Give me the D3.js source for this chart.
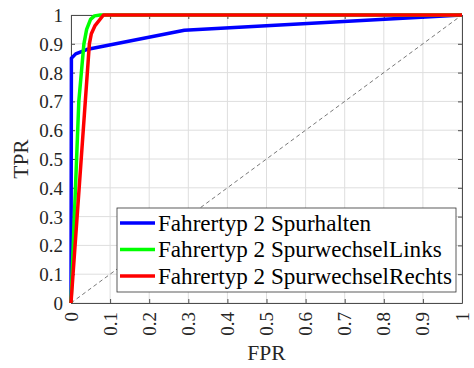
<!DOCTYPE html>
<html><head><meta charset="utf-8">
<script src="https://cdn.jsdelivr.net/npm/d3@7"></script>
<style>body{margin:0;background:#fff}svg{display:block}text{font-family:"Liberation Serif","DejaVu Serif",serif}</style>
</head><body>
<script>
const xTicks = [0,0.1,0.2,0.3,0.4,0.5,0.6,0.7,0.8,0.9,1];
const yTicks = [0,0.1,0.2,0.3,0.4,0.5,0.6,0.7,0.8,0.9,1];
const seriesNames = ["Fahrertyp 2 Spurhalten","Fahrertyp 2 SpurwechselLinks","Fahrertyp 2 SpurwechselRechts"];
const seriesColors = ["#0000ff","#00ff00","#ff0000"];
const spurhaltenFPR = [0,0.001,0.012,0.04,0.29,1];
const spurhaltenTPR = [0,0.85,0.865,0.88,0.947,1];
const linksFPR = [0,0.02,0.033,0.04,0.05,0.06,0.075,1];
const linksTPR = [0,0.7,0.9,0.95,0.985,0.997,1,1];
const rechtsFPR = [0,0.047,0.052,0.061,0.083,1];
const rechtsTPR = [0,0.9,0.935,0.962,1,1];
const diagFPR = [0,1];
const diagTPR = [0,1];

const W=474,H=368;
const m={l:71,r:12,t:15,b:65};
const svg=d3.select("body").append("svg").attr("width",W).attr("height",H);
const x=d3.scaleLinear().domain([0,1]).range([m.l,W-m.r]);
const y=d3.scaleLinear().domain([0,1]).range([H-m.b,m.t]);
const font='"Liberation Serif","DejaVu Serif",serif';

// grid
const g=svg.append("g");
g.selectAll(".gx").data(xTicks).join("line").attr("x1",d=>x(d)).attr("x2",d=>x(d)).attr("y1",y(0)).attr("y2",y(1)).attr("stroke","#dedede").attr("stroke-width",1);
g.selectAll(".gy").data(yTicks).join("line").attr("y1",d=>y(d)).attr("y2",d=>y(d)).attr("x1",x(0)).attr("x2",x(1)).attr("stroke","#dedede").attr("stroke-width",1);

// axes
const axisColor="#4d4d4d";
const xa=svg.append("g").attr("transform",`translate(0,${y(0)})`).call(d3.axisBottom(x).tickValues(xTicks).tickFormat(d3.format("~g")).tickSizeInner(-4).tickSizeOuter(0));
const ya=svg.append("g").attr("transform",`translate(${x(0)},0)`).call(d3.axisLeft(y).tickValues(yTicks).tickFormat(d3.format("~g")).tickSizeInner(-4).tickSizeOuter(0));
const xt=svg.append("g").attr("transform",`translate(0,${y(1)})`).call(d3.axisTop(x).tickValues(xTicks).tickFormat("").tickSizeInner(-4).tickSizeOuter(0));
const yr=svg.append("g").attr("transform",`translate(${x(1)},0)`).call(d3.axisRight(y).tickValues(yTicks).tickFormat("").tickSizeInner(-4).tickSizeOuter(0));
[xa,ya,xt,yr].forEach(a=>{a.attr("font-family",null).attr("font-size",null);a.selectAll("path,line").attr("stroke",axisColor);a.select(".domain").attr("stroke-width",1);});
xa.selectAll("text").style("font-family",font).style("font-size","19px").attr("fill","#262626")
  .attr("text-anchor","end").attr("dy","0.32em").attr("transform","rotate(-90)").attr("x",-9).attr("y",0);
ya.selectAll("text").style("font-family",font).style("font-size","19px").attr("fill","#262626").attr("x",-8).attr("dy","0.34em");

// diagonal
const line=d3.line().x(d=>x(d[0])).y(d=>y(d[1]));
svg.append("path").datum(diagFPR.map((v,i)=>[v,diagTPR[i]])).attr("d",line).attr("fill","none").attr("stroke","#555").attr("stroke-width",0.8).attr("stroke-dasharray","4,3");

// series
const series=[[spurhaltenFPR,spurhaltenTPR],[linksFPR,linksTPR],[rechtsFPR,rechtsTPR]];
series.forEach((s,i)=>{
  svg.append("path").datum(s[0].map((v,j)=>[v,s[1][j]])).attr("d",line).attr("fill","none")
    .attr("stroke",seriesColors[i]).attr("stroke-width",3.5).attr("stroke-linejoin","round");
});

// legend
const lg=svg.append("g");
lg.append("rect").attr("x",117).attr("y",208).attr("width",339).attr("height",84).attr("fill","#fff").attr("stroke","#333").attr("stroke-width",0.8);
const texts=[];
seriesNames.forEach((n,i)=>{
  const yy=223+i*26.5;
  lg.append("line").attr("x1",120).attr("x2",155).attr("y1",yy).attr("y2",yy).attr("stroke",seriesColors[i]).attr("stroke-width",3.5);
  texts.push(lg.append("text").attr("x",158).attr("y",yy).attr("dy","0.33em").style("font-family",font).style("font-size","21px").attr("fill","#000").text(n));
});
// fit longest entry to the box width
const wLong=texts[2].node().getComputedTextLength();
const fs=Math.min(24,21*294/wLong);
texts.forEach(t=>t.style("font-size",fs+"px"));

// axis titles
svg.append("text").attr("x",(x(0)+x(1))/2).attr("y",360).attr("text-anchor","middle").style("font-family",font).style("font-size","21.5px").attr("fill","#262626").text("FPR");
svg.append("text").attr("transform",`translate(28,${(y(0)+y(1))/2}) rotate(-90)`).attr("text-anchor","middle").style("font-family",font).style("font-size","21.5px").attr("fill","#262626").text("TPR");
</script>
</body></html>
